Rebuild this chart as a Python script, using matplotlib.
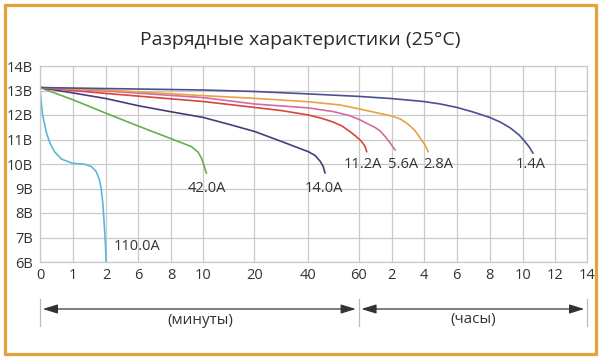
import numpy as np
import matplotlib
matplotlib.use('Agg')
import matplotlib.pyplot as plt
from matplotlib.patches import Rectangle
from matplotlib.transforms import blended_transform_factory

plt.rcParams['font.family'] = ['Open Sans', 'DejaVu Sans']

# ---- axis data ----
tick_minutes = [0, 1, 2, 6, 8, 10, 20, 40, 60, 120, 240, 360, 480, 600, 720, 840]
tick_labels = ['0', '1', '2', '6', '8', '10', '20', '40', '60', '2', '4', '6', '8', '10', '12', '14']
tick_pos = [0, 33, 66, 98, 131, 163, 214, 268, 318, 351, 383, 416, 449, 482, 514, 546]
y_ticks = [6, 7, 8, 9, 10, 11, 12, 13, 14]
y_labels = ['6В', '7В', '8В', '9В', '10В', '11В', '12В', '13В', '14В']

# ---- series (time in minutes, voltage in V) ----
t_110 = [0, 0.03, 0.08, 0.19, 0.3, 0.44, 0.65, 0.98, 1.35, 1.55, 1.7, 1.8, 1.85, 1.9, 1.95, 1.98, 2.0]
v_110 = [13.12, 12.6, 12.0, 11.3, 10.85, 10.5, 10.2, 10.03, 9.99, 9.9, 9.69, 9.35, 9.0, 8.4, 7.4, 6.7, 6.0]

t_42 = [0, 1, 2, 6, 8, 9.26, 9.68, 9.89, 10.16, 10.4, 10.63]
v_42 = [13.12, 12.62, 12.07, 11.55, 11.03, 10.71, 10.48, 10.23, 9.93, 9.76, 9.62]

t_14 = [0, 1, 2, 6, 8, 10, 15, 20, 30, 40, 42.6, 44.6, 45.8, 46.6]
v_14 = [13.12, 12.9, 12.67, 12.38, 12.13, 11.9, 11.62, 11.33, 10.92, 10.5, 10.35, 10.12, 9.92, 9.63]

t_112 = [0, 2, 10, 20, 30, 40, 45.4, 49.9, 53.4, 56.6, 58.6, 62.7, 68.2, 71.8, 74.9]
v_112 = [13.12, 12.88, 12.55, 12.31, 12.18, 12.0, 11.86, 11.71, 11.55, 11.32, 11.16, 10.98, 10.84, 10.71, 10.5]

t_56 = [0, 2, 10, 20, 40, 49.8, 56.6, 62.7, 80.9, 90, 99.1, 108.2, 117.3, 133.1]
v_56 = [13.12, 12.98, 12.71, 12.45, 12.29, 12.14, 11.97, 11.8, 11.59, 11.49, 11.35, 11.12, 10.86, 10.57]

t_28 = [0, 2, 10, 20, 40, 52.6, 62.7, 99.1, 120, 151.9, 170.6, 189.4, 208.1, 226.9, 244.5, 256.7]
v_28 = [13.12, 13.02, 12.79, 12.68, 12.54, 12.41, 12.24, 12.06, 11.96, 11.84, 11.71, 11.55, 11.35, 11.06, 10.78, 10.5]

t_14h = [0, 2, 10, 20, 40, 60, 120, 240, 300, 360, 420, 480, 518.2, 554.5, 586.7, 609, 624, 637.9]
v_14h = [13.12, 13.08, 13.02, 12.96, 12.86, 12.76, 12.67, 12.55, 12.45, 12.31, 12.12, 11.9, 11.71, 11.47, 11.18, 10.9, 10.69, 10.44]

series = [
    (t_110, v_110, '#5bb9d6', '110.0A', 5.8, 6.62),
    (t_42, v_42, '#6aae4a', '42.0A', 10.7, 9.02),
    (t_14, v_14, '#4a3a78', '14.0A', 46.2, 9.02),
    (t_112, v_112, '#d9453d', '11.2A', 68, 10.0),
    (t_56, v_56, '#d46aa6', '5.6A', 163, 10.0),
    (t_28, v_28, '#e8a243', '2.8A', 293, 10.0),
    (t_14h, v_14h, '#4b5190', '1.4A', 628, 10.0),
]


def fwd(x):
    return np.interp(np.asarray(x, dtype=float), tick_minutes, tick_pos)


def inv(p):
    return np.interp(np.asarray(p, dtype=float), tick_pos, tick_minutes)


fig = plt.figure(figsize=(6.0, 3.58), dpi=100)
ax = fig.add_axes([40 / 600, 1 - 262 / 358, 547 / 600, 196 / 358])
ax.set_xscale('function', functions=(fwd, inv))
ax.set_xlim(0, 840)
ax.set_ylim(6, 14)

ax.set_xticks(tick_minutes)
ax.set_xticklabels(tick_labels)
ax.set_yticks(y_ticks)
ax.set_yticklabels(y_labels)
ax.minorticks_off()
ax.tick_params(length=0, labelsize=10.5, colors='#333333', pad=4)
ax.tick_params(axis='y', pad=5)
ax.grid(True, color='#c9c9c9', lw=0.9)
for s in ax.spines.values():
    s.set_color('#c9c9c9')
    s.set_linewidth(0.9)

for t, v, c, lab, lx, ly in series:
    ax.plot(t, v, color=c, lw=1.2, solid_capstyle='round', solid_joinstyle='round')
    ax.text(lx, ly, lab, color='#333333', fontsize=10.5, ha='center', va='center')

# title
fig.text(0.5, 1 - 40 / 358, 'Разрядные характеристики (25°C)', ha='center', va='center',
         fontsize=14, color='#2a2a2a')

# bottom arrows
tr = blended_transform_factory(ax.transData, fig.transFigure)
y_arr = 1 - 309 / 358
for x in [0, 60, 840]:
    ax.plot([x, x], [1 - 299 / 358, 1 - 326 / 358], transform=tr, color='#bbbbbb',
            lw=0.9, clip_on=False)
arrow_kw = dict(arrowstyle='<|-|>,head_length=0.9,head_width=0.28', color='#333333',
                lw=0.9, mutation_scale=10, shrinkA=2, shrinkB=2)
ax.annotate('', xy=(60, y_arr), xytext=(0, y_arr), xycoords=tr, textcoords=tr,
            arrowprops=arrow_kw, annotation_clip=False)
ax.annotate('', xy=(840, y_arr), xytext=(60, y_arr), xycoords=tr, textcoords=tr,
            arrowprops=arrow_kw, annotation_clip=False)
fig.text(200 / 600, 1 - 320 / 358, '(минуты)', ha='center', va='center', fontsize=11,
         color='#333333')
fig.text(473 / 600, 1 - 320 / 358, '(часы)', ha='center', va='center', fontsize=11,
         color='#333333')

# golden frame
fig.patches.append(Rectangle((4.5 / 600, 4.5 / 358), 591 / 600, 349 / 358,
                             transform=fig.transFigure, fill=False,
                             edgecolor='#e3a23b', lw=2.3))

fig.savefig('out.png', dpi=100)
